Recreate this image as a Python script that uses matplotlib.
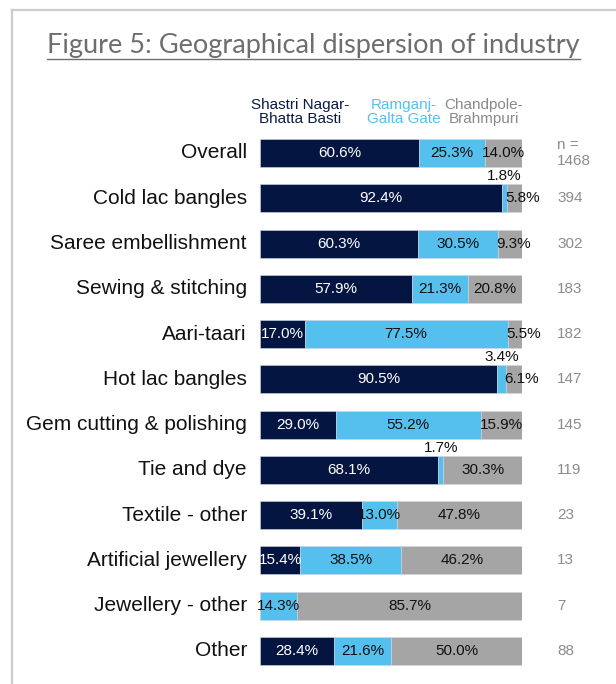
import matplotlib.pyplot as plt
from matplotlib.lines import Line2D

plt.rcParams['font.family'] = ['Liberation Sans', 'DejaVu Sans']

categories = ['Overall', 'Cold lac bangles', 'Saree embellishment', 'Sewing & stitching',
              'Aari-taari', 'Hot lac bangles', 'Gem cutting & polishing', 'Tie and dye',
              'Textile - other', 'Artificial jewellery', 'Jewellery - other', 'Other']
shastri = [60.6, 92.4, 60.3, 57.9, 17.0, 90.5, 29.0, 68.1, 39.1, 15.4, 0.0, 28.4]
ramganj = [25.3, 1.8, 30.5, 21.3, 77.5, 3.4, 55.2, 1.7, 13.0, 38.5, 14.3, 21.6]
chandpole = [14.0, 5.8, 9.3, 20.8, 5.5, 6.1, 15.9, 30.3, 47.8, 46.2, 85.7, 50.0]
n_values = ['1468', '394', '302', '183', '182', '147', '145', '119', '23', '13', '7', '88']
series_names = ['Shastri Nagar-\nBhatta Basti', 'Ramganj-\nGalta Gate', 'Chandpole-\nBrahmpuri']

colors = ['#041541', '#55c0ee', '#a5a5a5']
text_colors = ['white', '#111111', '#111111']
legend_colors = ['#0b1a46', '#55c0ee', '#8a8a8a']

W, H = 616, 684
fig = plt.figure(figsize=(W / 100, H / 100), dpi=100)

# axes placed in pixel terms: bars 260..522 px, rows centred 153..651 px
step = (651 - 153) / 11
top = 153 - step / 2
bot = 651 + step / 2
ax = fig.add_axes([260 / W, 1 - bot / H, 262 / W, (bot - top) / H])
ax.set_xlim(0, 100)
ax.set_ylim(len(categories) - 0.5, -0.5)
ax.axis('off')

ys = list(range(len(categories)))
left = [0.0] * len(categories)
for k, vals in enumerate([shastri, ramganj, chandpole]):
    ax.barh(ys, vals, left=left, height=0.62, color=colors[k],
            edgecolor='#d0d6e0', linewidth=0.4)
    for i, v in enumerate(vals):
        if v <= 0:
            continue
        cx = left[i] + v / 2
        if v < 3.5:
            ax.text(cx, i - 0.34, f'{v:.1f}%', ha='center', va='bottom',
                    fontsize=11, color='#111111')
        elif k == 2 and v < 10:
            ax.text(left[i] - 0.5, i, f'{v:.1f}%', ha='left', va='center',
                    fontsize=11, color=text_colors[k], clip_on=False)
        else:
            ax.text(max(cx, 6.8), i, f'{v:.1f}%', ha='center', va='center',
                    fontsize=11, color=text_colors[k])
    left = [l + v for l, v in zip(left, vals)]

# category labels
for i, c in enumerate(categories):
    ax.text(-5, i, c, ha='right', va='center', fontsize=15, color='#111111', clip_on=False)

# n values
for i, nv in enumerate(n_values):
    txt = 'n =\n' + nv if i == 0 else nv
    ax.text(113.5, i, txt, ha='left', va='center', fontsize=11, color='#8c8c8c',
            linespacing=1.15, clip_on=False)

# series header
for cx, name, col in zip([300, 404, 484], series_names, legend_colors):
    fig.text(cx / W, 1 - 112 / H, name, ha='center', va='center', fontsize=11,
             color=col, linespacing=1.05)

# title, underlined
title = fig.text(47 / W, 1 - 45 / H, 'Figure 5: Geographical dispersion of industry',
                 ha='left', va='center', fontsize=19.5, color='#6e6e6e',
                 family=['Lato', 'DejaVu Sans'])
fig.canvas.draw()
bb = title.get_window_extent()
fig.add_artist(Line2D([bb.x0 / W, bb.x1 / W], [1 - 59 / H, 1 - 59 / H],
                      transform=fig.transFigure, color='#6e6e6e', lw=1.0))

# frame
fig.add_artist(Line2D([12 / W, 1], [1 - 10 / H, 1 - 10 / H], transform=fig.transFigure,
                      color='#cccccc', lw=1.6))
fig.add_artist(Line2D([12 / W, 12 / W], [0, 1 - 10 / H], transform=fig.transFigure,
                      color='#cccccc', lw=1.6))

fig.savefig('out.png', dpi=100)
